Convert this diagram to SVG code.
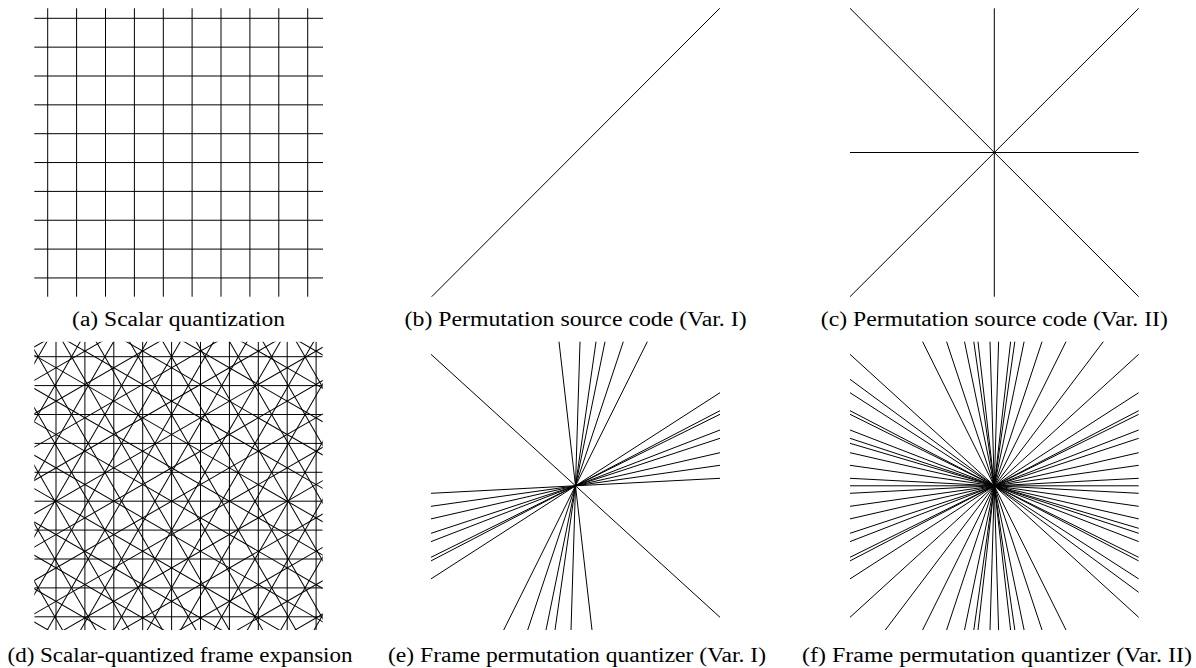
<svg xmlns="http://www.w3.org/2000/svg" xmlns:xlink="http://www.w3.org/1999/xlink" width="1196" height="668" viewBox="0 0 1196 668">
<style>
  .ln { stroke: #000; stroke-width: 1; fill: none; }
  .cap { font-family: "Liberation Serif", "DejaVu Serif", serif; font-size: 20px; fill: #000; text-anchor: middle; }
</style>
<defs>
  <clipPath id="clipD"><rect x="34.3" y="341.7" width="288.4" height="288.3"/></clipPath>
  <g id="famI" class="ln">
    <line x1="-260" y1="-231.12" x2="260" y2="-231.12"/>
    <line x1="-260" y1="-202.23" x2="260" y2="-202.23"/>
    <line x1="-260" y1="-173.34" x2="260" y2="-173.34"/>
    <line x1="-260" y1="-144.45" x2="260" y2="-144.45"/>
    <line x1="-260" y1="-115.56" x2="260" y2="-115.56"/>
    <line x1="-260" y1="-86.67" x2="260" y2="-86.67"/>
    <line x1="-260" y1="-57.78" x2="260" y2="-57.78"/>
    <line x1="-260" y1="-28.89" x2="260" y2="-28.89"/>
    <line x1="-260" y1="0" x2="260" y2="0"/>
    <line x1="-260" y1="28.89" x2="260" y2="28.89"/>
    <line x1="-260" y1="57.78" x2="260" y2="57.78"/>
    <line x1="-260" y1="86.67" x2="260" y2="86.67"/>
    <line x1="-260" y1="115.56" x2="260" y2="115.56"/>
    <line x1="-260" y1="144.45" x2="260" y2="144.45"/>
    <line x1="-260" y1="173.34" x2="260" y2="173.34"/>
    <line x1="-260" y1="202.23" x2="260" y2="202.23"/>
    <line x1="-260" y1="231.12" x2="260" y2="231.12"/>
  </g>
  <g id="famH" class="ln">
    <line x1="-260" y1="-216.675" x2="260" y2="-216.675"/>
    <line x1="-260" y1="-187.785" x2="260" y2="-187.785"/>
    <line x1="-260" y1="-158.895" x2="260" y2="-158.895"/>
    <line x1="-260" y1="-130.005" x2="260" y2="-130.005"/>
    <line x1="-260" y1="-101.115" x2="260" y2="-101.115"/>
    <line x1="-260" y1="-72.225" x2="260" y2="-72.225"/>
    <line x1="-260" y1="-43.335" x2="260" y2="-43.335"/>
    <line x1="-260" y1="-14.445" x2="260" y2="-14.445"/>
    <line x1="-260" y1="14.445" x2="260" y2="14.445"/>
    <line x1="-260" y1="43.335" x2="260" y2="43.335"/>
    <line x1="-260" y1="72.225" x2="260" y2="72.225"/>
    <line x1="-260" y1="101.115" x2="260" y2="101.115"/>
    <line x1="-260" y1="130.005" x2="260" y2="130.005"/>
    <line x1="-260" y1="158.895" x2="260" y2="158.895"/>
    <line x1="-260" y1="187.785" x2="260" y2="187.785"/>
    <line x1="-260" y1="216.675" x2="260" y2="216.675"/>
  </g>
</defs>
<rect width="1196" height="668" fill="#fff"/>

<g id="panel-a">
  <g class="ln">
    <line x1="47.7" y1="8.3" x2="47.7" y2="296.7"/>
    <line x1="76.6" y1="8.3" x2="76.6" y2="296.7"/>
    <line x1="105.5" y1="8.3" x2="105.5" y2="296.7"/>
    <line x1="134.4" y1="8.3" x2="134.4" y2="296.7"/>
    <line x1="163.3" y1="8.3" x2="163.3" y2="296.7"/>
    <line x1="192.1" y1="8.3" x2="192.1" y2="296.7"/>
    <line x1="221" y1="8.3" x2="221" y2="296.7"/>
    <line x1="249.9" y1="8.3" x2="249.9" y2="296.7"/>
    <line x1="278.8" y1="8.3" x2="278.8" y2="296.7"/>
    <line x1="307.7" y1="8.3" x2="307.7" y2="296.7"/>
    <line x1="34.3" y1="18.3" x2="323" y2="18.3"/>
    <line x1="34.3" y1="47.15" x2="323" y2="47.15"/>
    <line x1="34.3" y1="76" x2="323" y2="76"/>
    <line x1="34.3" y1="104.85" x2="323" y2="104.85"/>
    <line x1="34.3" y1="133.7" x2="323" y2="133.7"/>
    <line x1="34.3" y1="162.55" x2="323" y2="162.55"/>
    <line x1="34.3" y1="191.4" x2="323" y2="191.4"/>
    <line x1="34.3" y1="220.25" x2="323" y2="220.25"/>
    <line x1="34.3" y1="249.1" x2="323" y2="249.1"/>
    <line x1="34.3" y1="277.95" x2="323" y2="277.95"/>
  </g>
  <text class="cap" x="178.6" y="326" textLength="213" lengthAdjust="spacingAndGlyphs">(a) Scalar quantization</text>
</g>

<g id="panel-b">
  <line class="ln" x1="431.7" y1="296.7" x2="719.7" y2="8.3"/>
  <text class="cap" x="575.6" y="326" textLength="342" lengthAdjust="spacingAndGlyphs">(b) Permutation source code (Var. I)</text>
</g>

<g id="panel-c">
  <g class="ln">
    <line x1="994.3" y1="8.3" x2="994.3" y2="296.7"/>
    <line x1="850" y1="152.5" x2="1138.7" y2="152.5"/>
    <line x1="850" y1="8.3" x2="1138.7" y2="296.7"/>
    <line x1="850" y1="296.7" x2="1138.7" y2="8.3"/>
  </g>
  <text class="cap" x="994.3" y="326" textLength="347" lengthAdjust="spacingAndGlyphs">(c) Permutation source code (Var. II)</text>
</g>

<g id="panel-d">
  <g clip-path="url(#clipD)">
    <g class="ln">
      <line x1="56" y1="341.7" x2="56" y2="630"/>
      <line x1="84.9" y1="341.7" x2="84.9" y2="630"/>
      <line x1="113.8" y1="341.7" x2="113.8" y2="630"/>
      <line x1="142.7" y1="341.7" x2="142.7" y2="630"/>
      <line x1="171.6" y1="341.7" x2="171.6" y2="630"/>
      <line x1="200.5" y1="341.7" x2="200.5" y2="630"/>
      <line x1="229.4" y1="341.7" x2="229.4" y2="630"/>
      <line x1="258.3" y1="341.7" x2="258.3" y2="630"/>
      <line x1="287.2" y1="341.7" x2="287.2" y2="630"/>
      <line x1="316.1" y1="341.7" x2="316.1" y2="630"/>
      <line x1="34.3" y1="356.7" x2="322.7" y2="356.7"/>
      <line x1="34.3" y1="385.6" x2="322.7" y2="385.6"/>
      <line x1="34.3" y1="414.5" x2="322.7" y2="414.5"/>
      <line x1="34.3" y1="443.4" x2="322.7" y2="443.4"/>
      <line x1="34.3" y1="472.3" x2="322.7" y2="472.3"/>
      <line x1="34.3" y1="501.2" x2="322.7" y2="501.2"/>
      <line x1="34.3" y1="530.1" x2="322.7" y2="530.1"/>
      <line x1="34.3" y1="559" x2="322.7" y2="559"/>
      <line x1="34.3" y1="587.9" x2="322.7" y2="587.9"/>
      <line x1="34.3" y1="616.8" x2="322.7" y2="616.8"/>
    </g>
    <use xlink:href="#famI" href="#famI" transform="translate(171.6,501.2) rotate(-30)"/>
    <use xlink:href="#famI" href="#famI" transform="translate(171.6,501.2) rotate(30)"/>
    <use xlink:href="#famH" href="#famH" transform="translate(171.6,501.2) rotate(-60)"/>
    <use xlink:href="#famH" href="#famH" transform="translate(171.6,501.2) rotate(60)"/>
  </g>
  <text class="cap" x="180" y="662" textLength="345" lengthAdjust="spacingAndGlyphs">(d) Scalar-quantized frame expansion</text>
</g>

<g id="panel-e">
  <g class="ln">
    <line x1="431" y1="354.3" x2="720" y2="617.3"/>
    <line x1="559" y1="341.7" x2="592" y2="630"/>
    <line x1="580" y1="341.7" x2="571" y2="630"/>
    <line x1="596" y1="341.7" x2="555" y2="630"/>
    <line x1="605" y1="341.7" x2="546" y2="630"/>
    <line x1="623.3" y1="341.7" x2="527.7" y2="630"/>
    <line x1="647.3" y1="341.7" x2="503.7" y2="630"/>
    <line x1="720" y1="392.7" x2="431" y2="578.9"/>
    <line x1="720" y1="410.7" x2="431" y2="560.9"/>
    <line x1="720" y1="414.3" x2="431" y2="557.3"/>
    <line x1="720" y1="430" x2="431" y2="541.6"/>
    <line x1="720" y1="438.3" x2="431" y2="533.3"/>
    <line x1="720" y1="452.7" x2="431" y2="518.9"/>
    <line x1="720" y1="465.3" x2="431" y2="506.3"/>
    <line x1="720" y1="478.3" x2="431" y2="493.3"/>
  </g>
  <text class="cap" x="577" y="662" textLength="378" lengthAdjust="spacingAndGlyphs">(e) Frame permutation quantizer (Var. I)</text>
</g>

<g id="panel-f">
  <g class="ln">
    <line x1="850" y1="354.3" x2="1138.7" y2="617.3"/>
    <line x1="850" y1="617.3" x2="1138.7" y2="354.3"/>
    <line x1="922.6" y1="341.7" x2="1066" y2="630"/>
    <line x1="946.6" y1="341.7" x2="1042" y2="630"/>
    <line x1="964.5" y1="341.7" x2="1024.1" y2="630"/>
    <line x1="973.8" y1="341.7" x2="1014.8" y2="630"/>
    <line x1="978" y1="341.7" x2="1010.6" y2="630"/>
    <line x1="990" y1="341.7" x2="998.6" y2="630"/>
    <line x1="998.6" y1="341.7" x2="990" y2="630"/>
    <line x1="1010.6" y1="341.7" x2="978" y2="630"/>
    <line x1="1014.8" y1="341.7" x2="973.8" y2="630"/>
    <line x1="1024.1" y1="341.7" x2="964.5" y2="630"/>
    <line x1="1042" y1="341.7" x2="946.6" y2="630"/>
    <line x1="1066" y1="341.7" x2="922.6" y2="630"/>
    <line x1="1103.3" y1="341.7" x2="885.3" y2="630"/>
    <line x1="850" y1="379.3" x2="1138.7" y2="592.3"/>
    <line x1="850" y1="392.7" x2="1138.7" y2="578.9"/>
    <line x1="850" y1="410.7" x2="1138.7" y2="560.9"/>
    <line x1="850" y1="414.3" x2="1138.7" y2="557.3"/>
    <line x1="850" y1="430" x2="1138.7" y2="541.6"/>
    <line x1="850" y1="438.3" x2="1138.7" y2="533.3"/>
    <line x1="850" y1="443.3" x2="1138.7" y2="528.3"/>
    <line x1="850" y1="452.7" x2="1138.7" y2="518.9"/>
    <line x1="850" y1="465.3" x2="1138.7" y2="506.3"/>
    <line x1="850" y1="478.3" x2="1138.7" y2="493.3"/>
    <line x1="850" y1="485.8" x2="1138.7" y2="485.8"/>
    <line x1="850" y1="493.3" x2="1138.7" y2="478.3"/>
    <line x1="850" y1="506.3" x2="1138.7" y2="465.3"/>
    <line x1="850" y1="518.9" x2="1138.7" y2="452.7"/>
    <line x1="850" y1="533.3" x2="1138.7" y2="438.3"/>
    <line x1="850" y1="541.6" x2="1138.7" y2="430"/>
    <line x1="850" y1="557.3" x2="1138.7" y2="414.3"/>
    <line x1="850" y1="560.9" x2="1138.7" y2="410.7"/>
    <line x1="850" y1="578.9" x2="1138.7" y2="392.7"/>
  </g>
  <text class="cap" x="997" y="662" textLength="390" lengthAdjust="spacingAndGlyphs">(f) Frame permutation quantizer (Var. II)</text>
</g>
</svg>
